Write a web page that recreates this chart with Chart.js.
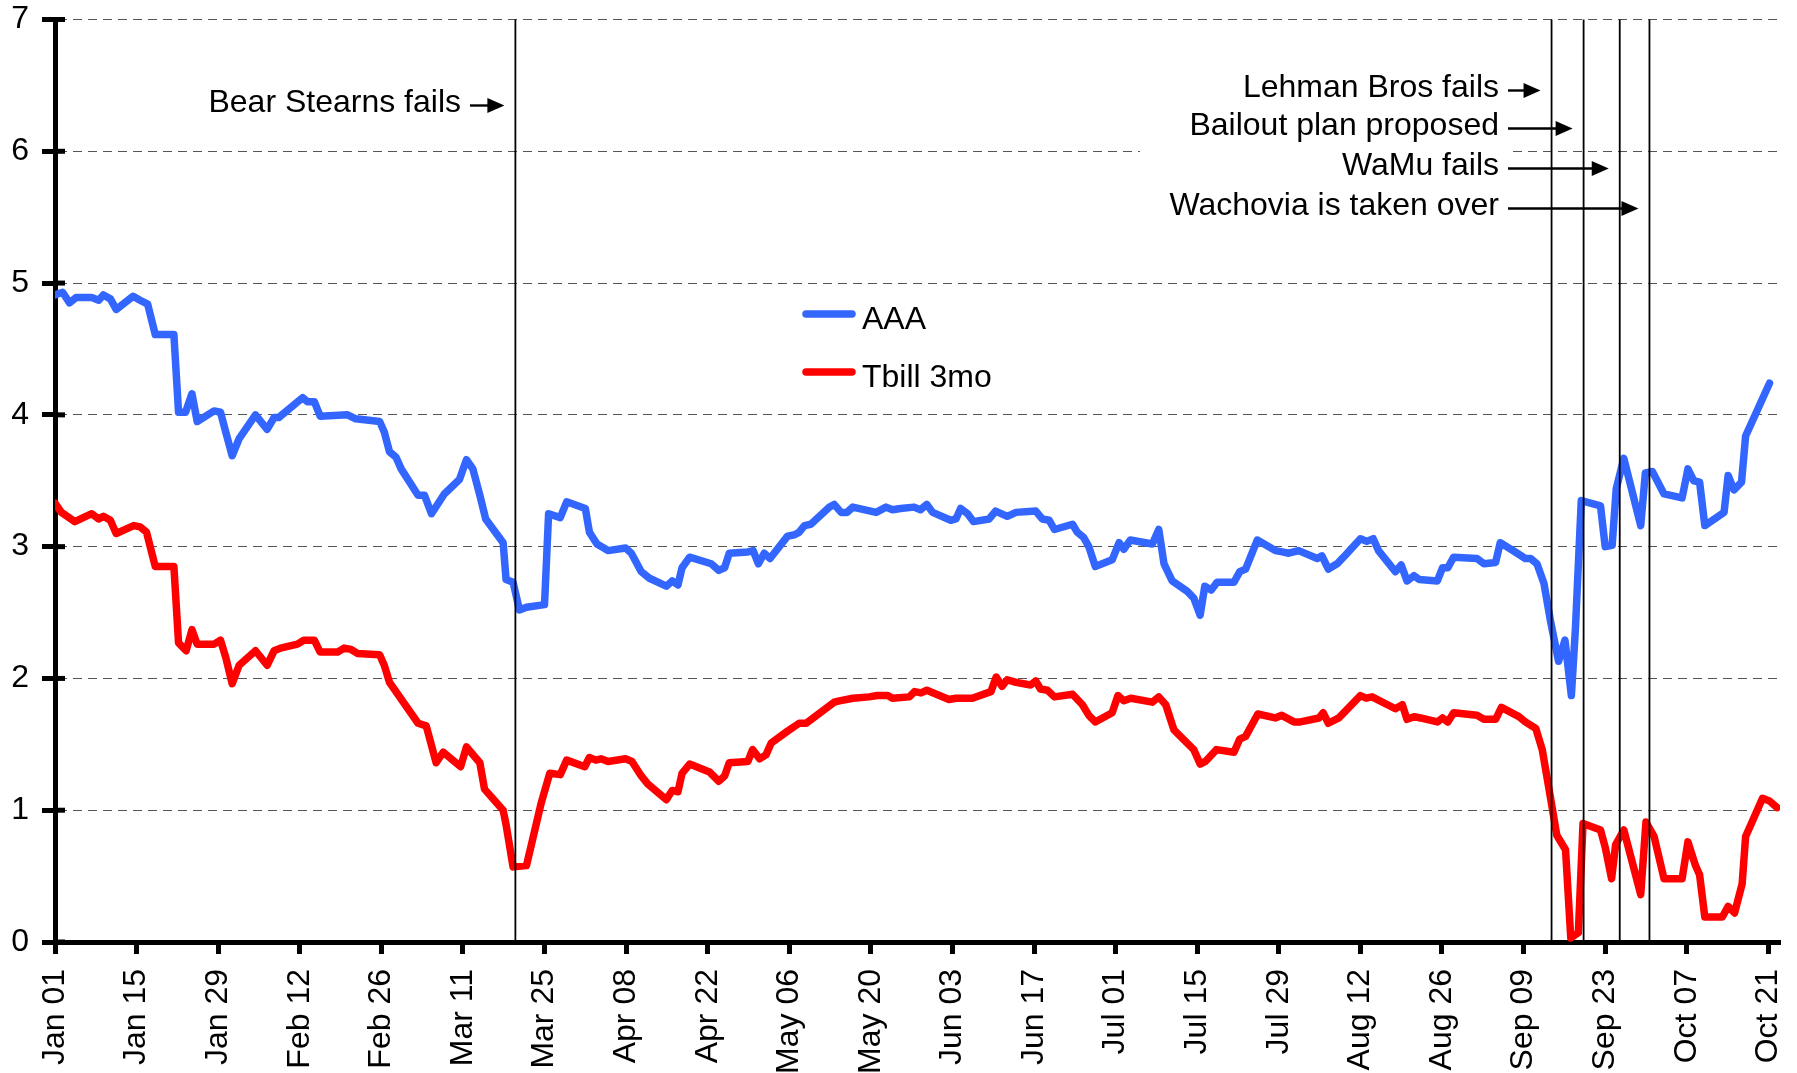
<!DOCTYPE html>
<html>
<head>
<meta charset="utf-8">
<script src="https://cdn.jsdelivr.net/npm/chart.js@4.4.1/dist/chart.umd.min.js"></script>
<style>
  html, body { margin: 0; padding: 0; background: #fff; }
</style>
</head>
<body>
<canvas id="rateChart" width="1797" height="1073"></canvas>
<script>
// x values are days counted from Jan 01 2008
const tickDays = [0, 14, 28, 42, 56, 70, 84, 98, 112, 126, 140, 154, 168, 182, 196, 210, 224, 238, 252, 266, 280, 294];
const tickLabels = ["Jan 01", "Jan 15", "Jan 29", "Feb 12", "Feb 26", "Mar 11", "Mar 25", "Apr 08", "Apr 22",
  "May 06", "May 20", "Jun 03", "Jun 17", "Jul 01", "Jul 15", "Jul 29", "Aug 12", "Aug 26", "Sep 09",
  "Sep 23", "Oct 07", "Oct 21"];

const aaaDays = [0, 1.3, 2.5, 3.6, 6.3, 7.5, 8.3, 9.5, 10.5, 13.4, 14.6, 15.9, 17.2, 20.4, 21.2, 22.4, 23.5, 24.4,
  27.3, 28.4, 29.3, 30.4, 31.6, 34.4, 36.4, 37.6, 38.4, 42.5, 43.3, 44.5, 45.5, 50.2, 51.6, 55.7, 56.5, 57.4,
  58.5, 59.4, 62.3, 63.4, 64.6, 66.8, 69.4, 70.6, 71.7, 72.9, 73.9, 76.9, 77.4, 78.6, 79.7, 80.9, 84.0, 84.7,
  86.7, 87.8, 91.0, 91.7, 93.0, 94.9, 97.9, 98.9, 100.6, 102.0, 104.9, 105.9, 106.9, 107.6, 108.9, 112.6,
  113.9, 114.9, 115.7, 118.9, 119.8, 120.7, 121.7, 122.7, 125.7, 126.9, 127.7, 128.6, 129.7, 132.9, 133.7,
  134.9, 135.9, 136.9, 140.9, 142.6, 143.7, 145.1, 147.4, 148.5, 149.6, 150.6, 153.7, 154.6, 155.4, 156.6,
  157.6, 160.3, 161.4, 163.4, 164.9, 168.3, 169.4, 170.6, 171.5, 174.6, 175.4, 176.5, 177.4, 178.5, 181.4,
  182.6, 183.4, 184.5, 188.3, 189.4, 190.3, 191.7, 194.3, 195.4, 196.5, 197.3, 198.4, 199.4, 202.3, 203.3,
  204.3, 206.3, 209.4, 210.6, 211.7, 213.4, 216.6, 217.4, 218.5, 220.0, 221.1, 224.0, 225.1, 226.2, 227.1,
  230.0, 231.0, 232.0, 233.2, 234.1, 237.2, 238.1, 239.0, 240.0, 244.0, 245.2, 247.2, 248.0, 250.9, 252.3,
  253.2, 254.3, 255.5, 256.6, 258.0, 259.1, 260.2, 260.9, 261.9, 265.2, 266.0, 267.2, 267.9, 269.2, 272.1,
  272.9, 274.1, 276.1, 279.2, 280.2, 281.2, 282.2, 283.1, 286.4, 287.1, 288.1, 289.4, 290.1, 294.2];
const aaaValues = [4.91, 4.93, 4.85, 4.89, 4.89, 4.87, 4.91, 4.88, 4.80, 4.90, 4.87, 4.84, 4.61, 4.61, 4.02, 4.02,
  4.16, 3.95, 4.03, 4.02, 3.87, 3.69, 3.82, 4.00, 3.89, 3.98, 3.98, 4.13, 4.10, 4.10, 3.99, 4.00, 3.97, 3.95,
  3.87, 3.72, 3.68, 3.59, 3.39, 3.39, 3.25, 3.40, 3.51, 3.66, 3.59, 3.39, 3.21, 3.03, 2.75, 2.73, 2.52, 2.54,
  2.56, 3.25, 3.22, 3.34, 3.29, 3.11, 3.02, 2.97, 2.99, 2.95, 2.81, 2.76, 2.70, 2.74, 2.71, 2.84, 2.92, 2.87,
  2.82, 2.84, 2.95, 2.96, 2.97, 2.87, 2.95, 2.91, 3.08, 3.09, 3.11, 3.16, 3.17, 3.30, 3.32, 3.26, 3.26, 3.30,
  3.26, 3.30, 3.28, 3.29, 3.30, 3.28, 3.32, 3.26, 3.20, 3.21, 3.29, 3.25, 3.19, 3.21, 3.27, 3.23, 3.26, 3.27,
  3.21, 3.20, 3.13, 3.17, 3.11, 3.07, 3.00, 2.85, 2.90, 3.03, 2.98, 3.05, 3.02, 3.13, 2.87, 2.74, 2.66, 2.61,
  2.48, 2.70, 2.67, 2.73, 2.73, 2.81, 2.83, 3.05, 2.97, 2.96, 2.95, 2.97, 2.91, 2.93, 2.83, 2.87, 2.92, 3.06,
  3.04, 3.06, 2.97, 2.81, 2.86, 2.74, 2.78, 2.75, 2.74, 2.84, 2.84, 2.92, 2.91, 2.87, 2.88, 3.03, 2.95, 2.91,
  2.91, 2.87, 2.72, 2.44, 2.13, 2.29, 1.87, 2.38, 3.35, 3.31, 3.00, 3.01, 3.44, 3.67, 3.16, 3.56, 3.57, 3.40,
  3.37, 3.59, 3.50, 3.49, 3.16, 3.26, 3.54, 3.43, 3.49, 3.84, 4.24];

const tbillDays = [0, 1.1, 3.4, 6.3, 7.5, 8.3, 9.5, 10.5, 13.5, 14.6, 15.7, 17.2, 20.4, 21.2, 22.5, 23.5, 24.4,
  27.3, 28.4, 29.3, 30.4, 31.6, 34.4, 36.4, 37.6, 38.7, 41.6, 42.7, 44.5, 45.5, 48.5, 49.6, 50.8, 51.9, 55.7,
  56.5, 57.4, 62.3, 63.7, 65.4, 66.6, 69.6, 70.6, 72.9, 73.7, 76.9, 77.4, 78.6, 80.9, 83.4, 84.9, 86.7, 87.8,
  90.9, 91.7, 92.8, 93.7, 94.9, 97.9, 99.0, 100.6, 101.7, 104.9, 105.9, 106.9, 107.6, 108.9, 112.3, 113.9,
  114.9, 115.7, 118.9, 119.7, 120.9, 122.0, 122.9, 125.7, 127.7, 128.9, 133.7, 134.6, 136.9, 139.7, 141.1,
  142.9, 143.7, 146.6, 147.5, 148.6, 149.6, 153.4, 154.6, 157.4, 160.6, 161.5, 162.5, 163.4, 164.9, 167.4,
  168.3, 169.1, 170.3, 171.5, 174.6, 176.3, 177.4, 178.5, 181.4, 182.4, 183.4, 184.6, 188.3, 189.4, 190.6,
  192.0, 195.4, 196.5, 197.4, 199.3, 202.3, 203.3, 204.3, 206.4, 209.4, 210.5, 212.6, 213.7, 216.9, 217.6,
  218.5, 220.3, 224.0, 225.0, 226.0, 230.0, 231.2, 232.0, 233.2, 234.3, 237.2, 238.1, 239.0, 240.0, 244.0,
  245.2, 247.2, 248.2, 251.2, 252.3, 254.1, 255.2, 256.6, 257.7, 259.2, 260.1, 261.4, 262.2, 265.2, 266.0,
  267.1, 267.8, 269.2, 272.1, 273.0, 274.4, 276.1, 279.2, 280.2, 281.5, 282.2, 283.1, 286.1, 287.1, 288.2,
  289.5, 290.1, 293.0, 294.2, 295.5];
const tbillValues = [3.33, 3.26, 3.19, 3.25, 3.21, 3.23, 3.20, 3.10, 3.16, 3.15, 3.11, 2.85, 2.85, 2.27, 2.21,
  2.37, 2.26, 2.26, 2.29, 2.16, 1.96, 2.10, 2.21, 2.10, 2.21, 2.23, 2.26, 2.29, 2.29, 2.20, 2.20, 2.23, 2.22,
  2.19, 2.18, 2.10, 1.97, 1.66, 1.64, 1.36, 1.44, 1.33, 1.48, 1.36, 1.16, 1.00, 0.89, 0.57, 0.58, 1.05, 1.28,
  1.27, 1.38, 1.33, 1.40, 1.38, 1.39, 1.37, 1.39, 1.37, 1.26, 1.20, 1.08, 1.15, 1.14, 1.28, 1.35, 1.29, 1.22,
  1.26, 1.36, 1.37, 1.46, 1.39, 1.42, 1.51, 1.60, 1.66, 1.66, 1.82, 1.83, 1.85, 1.86, 1.87, 1.87, 1.85, 1.86,
  1.90, 1.89, 1.91, 1.84, 1.85, 1.85, 1.90, 2.01, 1.94, 1.99, 1.97, 1.95, 1.98, 1.92, 1.91, 1.86, 1.88, 1.80,
  1.72, 1.67, 1.74, 1.87, 1.83, 1.85, 1.82, 1.86, 1.80, 1.61, 1.46, 1.35, 1.37, 1.46, 1.44, 1.54, 1.56, 1.73,
  1.70, 1.72, 1.67, 1.67, 1.70, 1.74, 1.66, 1.70, 1.87, 1.85, 1.86, 1.77, 1.80, 1.69, 1.71, 1.70, 1.67, 1.70,
  1.67, 1.74, 1.72, 1.69, 1.69, 1.78, 1.71, 1.67, 1.62, 1.46, 1.10, 0.81, 0.70, 0.03, 0.07, 0.90, 0.85, 0.72,
  0.48, 0.74, 0.85, 0.36, 0.91, 0.80, 0.48, 0.48, 0.76, 0.58, 0.51, 0.19, 0.19, 0.27, 0.22, 0.44, 0.80, 1.09,
  1.07, 1.02];

const eventDays = [79, 256.8, 262.3, 268.5, 273.6];
const eventLabels = ["Bear Stearns fails", "Lehman Bros fails", "Bailout plan proposed", "WaMu fails",
  "Wachovia is taken over"];

const FONT = "'Liberation Sans', Arial, sans-serif";
const FONT_SIZE = 32;

function toPoints(days, values) {
  return days.map((d, i) => ({ x: d, y: values[i] }));
}

// where each event label sits: right edge and text baseline
const labelSpots = [
  { right: 461, base: 112 },
  { right: 1499, base: 97 },
  { right: 1499, base: 135 },
  { right: 1499, base: 175 },
  { right: 1499, base: 215 }
];

function drawArrow(ctx, x1, x2, y) {
  ctx.beginPath();
  ctx.moveTo(x1, y);
  ctx.lineTo(x2 - 14, y);
  ctx.lineWidth = 2.4;
  ctx.stroke();
  ctx.beginPath();
  ctx.moveTo(x2, y);
  ctx.lineTo(x2 - 17, y - 7.5);
  ctx.lineTo(x2 - 17, y + 7.5);
  ctx.closePath();
  ctx.fill();
}

const eventPlugin = {
  id: "events",
  afterDatasetsDraw(chart) {
    const { ctx } = chart;
    const x = chart.scales.x;
    const y = chart.scales.y;
    const top = y.getPixelForValue(7);
    const bottom = y.getPixelForValue(0);
    ctx.save();
    ctx.fillStyle = "#fff";
    ctx.fillRect(1140, 60, 368, 166);
    ctx.fillStyle = "#000";
    ctx.strokeStyle = "#000";
    ctx.font = FONT_SIZE + "px " + FONT;
    ctx.textAlign = "right";
    ctx.textBaseline = "alphabetic";
    eventDays.forEach((day, i) => {
      const px = x.getPixelForValue(day);
      ctx.lineWidth = 1.8;
      ctx.beginPath();
      ctx.moveTo(px, top);
      ctx.lineTo(px, bottom);
      ctx.stroke();
      const spot = labelSpots[i];
      ctx.fillText(eventLabels[i], spot.right, spot.base);
      drawArrow(ctx, spot.right + 9, px - 11, spot.base - 6.5);
    });

    // legend
    const legendRows = [314, 372];
    chart.data.datasets.forEach((ds, i) => {
      const ly = legendRows[i];
      ctx.lineWidth = 7.5;
      ctx.lineCap = "round";
      ctx.strokeStyle = ds.borderColor;
      ctx.beginPath();
      ctx.moveTo(806, ly);
      ctx.lineTo(852, ly);
      ctx.stroke();
      ctx.textAlign = "left";
      ctx.fillStyle = "#000";
      ctx.fillText(ds.label, 862, ly + 15);
    });

    // short tick stubs inside the plot on the y axis
    ctx.strokeStyle = "#000";
    ctx.lineWidth = 5;
    ctx.lineCap = "butt";
    y.ticks.forEach((t) => {
      const py = y.getPixelForValue(t.value);
      ctx.beginPath();
      ctx.moveTo(chart.chartArea.left, py);
      ctx.lineTo(chart.chartArea.left + 10, py);
      ctx.stroke();
    });
    ctx.restore();
  }
};

new Chart(document.getElementById("rateChart"), {
  type: "line",
  data: {
    datasets: [
      {
        label: "AAA",
        data: toPoints(aaaDays, aaaValues),
        borderColor: "#3366ff",
        borderWidth: 7.5,
        pointRadius: 0,
        tension: 0,
        borderJoinStyle: "round",
        borderCapStyle: "round"
      },
      {
        label: "Tbill 3mo",
        data: toPoints(tbillDays, tbillValues),
        borderColor: "#ff0000",
        borderWidth: 7.5,
        pointRadius: 0,
        tension: 0,
        borderJoinStyle: "round",
        borderCapStyle: "round"
      }
    ]
  },
  options: {
    responsive: false,
    animation: false,
    devicePixelRatio: 1,
    layout: { padding: { top: 19.5, right: 17, bottom: 0, left: 0 } },
    plugins: {
      legend: { display: false },
      tooltip: { enabled: false }
    },
    scales: {
      x: {
        type: "linear",
        min: 0,
        max: 296,
        afterBuildTicks(axis) {
          axis.ticks = tickDays.map((v) => ({ value: v }));
        },
        afterFit(axis) {
          axis.height = 131;
          axis.paddingLeft = 0;
          axis.paddingRight = 0;
        },
        ticks: {
          autoSkip: false,
          minRotation: 90,
          maxRotation: 90,
          padding: 15,
          color: "#000",
          font: { family: FONT, size: FONT_SIZE },
          callback: (value, index) => tickLabels[index]
        },
        grid: {
          drawOnChartArea: false,
          drawTicks: true,
          tickLength: 12,
          tickWidth: 5,
          tickColor: "#000"
        },
        border: { color: "#000", width: 5 }
      },
      y: {
        min: 0,
        max: 7,
        afterFit(axis) {
          axis.width = 55;
          axis.paddingTop = 0;
          axis.paddingBottom = 0;
        },
        ticks: {
          stepSize: 1,
          padding: 13,
          color: "#000",
          font: { family: FONT, size: FONT_SIZE }
        },
        grid: {
          color: (c) => (c.tick && c.tick.value === 0 ? "rgba(0,0,0,0)" : "#555"),
          lineWidth: 1,
          tickLength: 13,
          tickWidth: 5,
          tickColor: "#000",
          tickBorderDash: []
        },
        border: { color: "#000", width: 5, dash: [9, 6] }
      }
    }
  },
  plugins: [eventPlugin]
});
</script>
</body>
</html>
